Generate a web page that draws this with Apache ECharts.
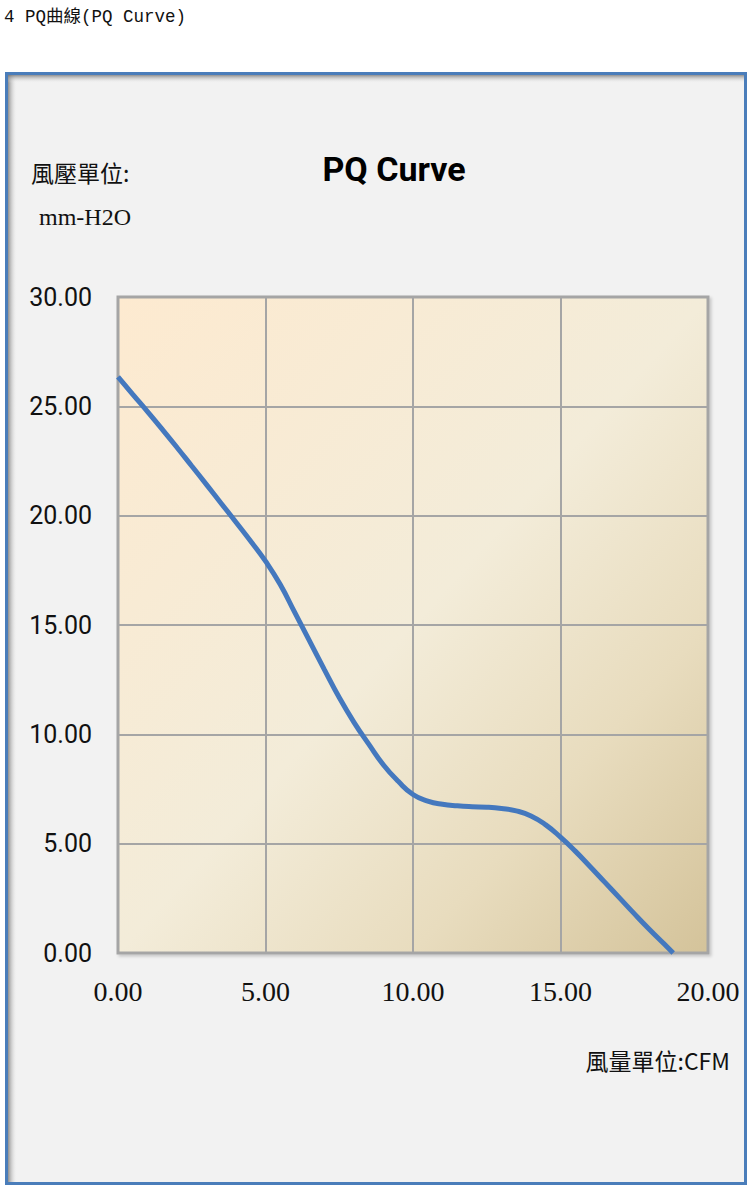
<!DOCTYPE html>
<html>
<head>
<meta charset="utf-8">
<script src="https://cdn.jsdelivr.net/npm/echarts@6/dist/echarts.min.js"></script>
<style>
html,body{margin:0;padding:0;background:#fff;}
#chart{width:750px;height:1190px;}
</style>
</head>
<body>
<div id="chart"></div>
<script>
// Flow (CFM) and static pressure (mm-H2O)
const flowCFM = [0, 0.5, 1, 1.5, 2, 2.5, 3, 3.5, 4, 4.5, 5, 5.5, 6, 6.5, 7, 7.5, 8, 8.5, 9, 9.5,
  10, 10.5, 11, 11.5, 12, 12.5, 13, 13.5, 14, 14.5, 15, 15.5, 16, 16.5, 17, 17.5, 18, 18.5, 18.82];
const pressureMmH2O = [26.35, 25.55, 24.76, 23.95, 23.12, 22.27, 21.42, 20.56, 19.7, 18.83, 17.92, 16.85, 15.55, 14.25, 12.95, 11.68, 10.55, 9.55, 8.6, 7.85,
  7.25, 6.95, 6.8, 6.73, 6.69, 6.67, 6.61, 6.5, 6.27, 5.86, 5.3, 4.66, 3.96, 3.24, 2.52, 1.8, 1.1, 0.43, 0];
const xTicks = [0, 5, 10, 15, 20];
const yTicks = [0, 5, 10, 15, 20, 25, 30];

const pageHeading = '4 PQ曲線(PQ Curve)';
const chartTitle = 'PQ Curve';
const yUnitLine1 = '風壓單位:';
const yUnitLine2 = 'mm-H2O';
const xUnit = '風量單位:CFM';

const points = flowCFM.map((x, i) => [x, pressureMmH2O[i]]);

const chart = echarts.init(document.getElementById('chart'), null, {renderer: 'svg'});
const cjk = "'Noto Sans CJK TC', 'Noto Sans CJK SC', sans-serif";

chart.setOption({
  animation: false,
  backgroundColor: '#ffffff',
  title: {
    text: chartTitle,
    left: 389,
    top: 147,
    textAlign: 'center',
    textStyle: {
      fontFamily: "'Liberation Sans Narrow', Roboto, sans-serif",
      fontWeight: 'bold',
      fontSize: 34,
      color: '#000'
    }
  },
  graphic: [
    {
      type: 'rect', z: -10, silent: true,
      shape: {x: 6.5, y: 73.5, width: 739, height: 1110},
      style: {fill: '#F2F2F2', stroke: '#4A7DBA', lineWidth: 3}
    },
    {
      type: 'rect', z: -9, silent: true,
      shape: {x: 8, y: 75, width: 9, height: 1107},
      style: {fill: new echarts.graphic.LinearGradient(0, 0, 1, 0, [
        {offset: 0, color: 'rgba(110,110,110,0.75)'},
        {offset: 1, color: 'rgba(242,242,242,0)'}
      ])}
    },
    {
      type: 'rect', z: -9, silent: true,
      shape: {x: 8, y: 75, width: 736, height: 8},
      style: {fill: new echarts.graphic.LinearGradient(0, 0, 0, 1, [
        {offset: 0, color: 'rgba(110,110,110,0.75)'},
        {offset: 1, color: 'rgba(242,242,242,0)'}
      ])}
    },
    {
      type: 'text', z: 10, silent: true,
      x: 4, y: 8,
      style: {text: pageHeading, fontFamily: "'Liberation Mono', 'Noto Sans CJK TC', monospace", fontSize: 17.5, fill: '#111'}
    },
    {
      type: 'text', z: 10, silent: true,
      x: 31, y: 160,
      style: {text: yUnitLine1, fontFamily: cjk, fontSize: 23, fill: '#111'}
    },
    {
      type: 'text', z: 10, silent: true,
      x: 39, y: 205,
      style: {text: yUnitLine2, fontFamily: "'Liberation Serif', serif", fontSize: 24, fill: '#111'}
    },
    {
      type: 'text', z: 10, silent: true,
      x: 730, y: 1048,
      style: {text: xUnit, textAlign: 'right', fontFamily: cjk, fontSize: 23, fill: '#111'}
    }
  ],
  grid: {
    left: 118, top: 297, width: 590, height: 656,
    outerBoundsMode: 'none',
    containLabel: false,
    show: true,
    backgroundColor: new echarts.graphic.LinearGradient(0, 0, 1, 1, [
      {offset: 0, color: '#FDEAD0'},
      {offset: 0.5, color: '#F3ECD9'},
      {offset: 0.75, color: '#E8DCBE'},
      {offset: 1, color: '#D4C39A'}
    ]),
    borderColor: '#A5A5A5',
    borderWidth: 3,
    shadowColor: 'rgba(0,0,0,0.18)',
    shadowBlur: 3,
    shadowOffsetX: 2,
    shadowOffsetY: 2
  },
  xAxis: {
    type: 'value',
    min: xTicks[0], max: xTicks[xTicks.length - 1], interval: 5,
    axisLine: {show: false},
    axisTick: {show: false},
    splitLine: {show: true, lineStyle: {color: '#A5A5A5', width: 2}},
    axisLabel: {
      margin: 24,
      formatter: v => v.toFixed(2),
      fontFamily: "'Liberation Serif', serif",
      fontSize: 28,
      color: '#111'
    }
  },
  yAxis: {
    type: 'value',
    min: yTicks[0], max: yTicks[yTicks.length - 1], interval: 5,
    axisLine: {show: false},
    axisTick: {show: false},
    splitLine: {show: true, lineStyle: {color: '#A5A5A5', width: 2}},
    axisLabel: {
      margin: 26,
      formatter: v => v.toFixed(2),
      fontFamily: "'Liberation Sans Narrow', Roboto, sans-serif",
      fontSize: 25,
      color: '#111'
    }
  },
  series: [{
    type: 'line',
    data: points,
    smooth: 0.5,
    showSymbol: false,
    lineStyle: {color: '#4478BE', width: 5},
    z: 5
  }]
});
</script>
</body>
</html>
